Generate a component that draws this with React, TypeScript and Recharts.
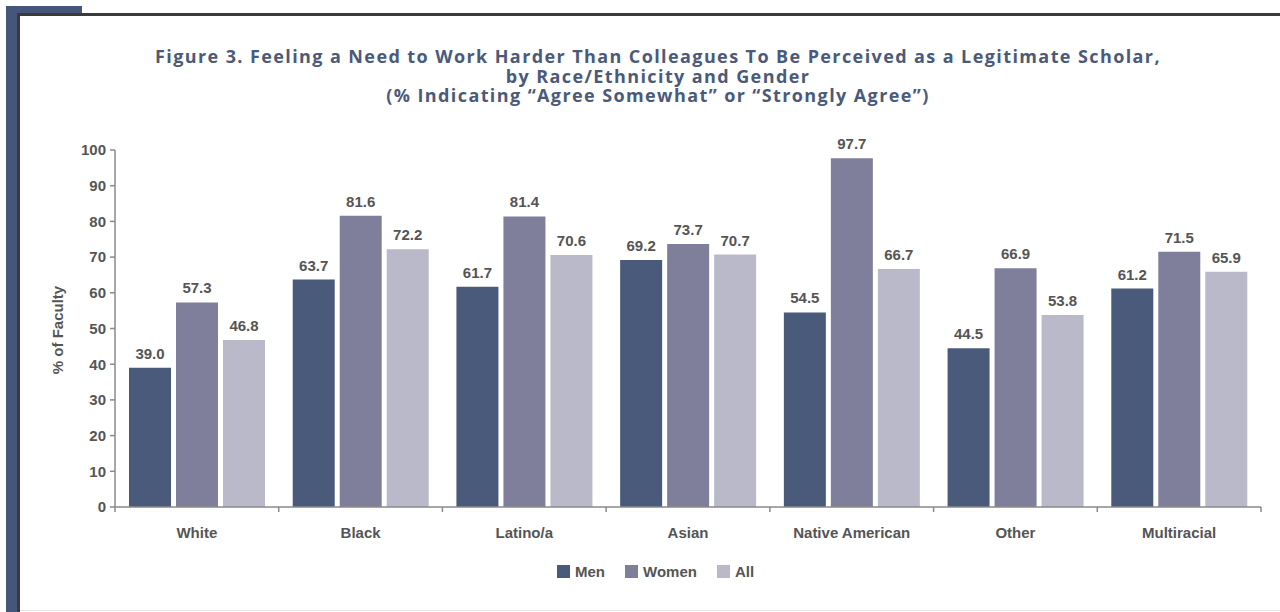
import React from 'react';
import { BarChart, Bar, XAxis, YAxis, LabelList } from 'recharts';

const groups = ['White', 'Black', 'Latino/a', 'Asian', 'Native American', 'Other', 'Multiracial'];
const menValues = [39.0, 63.7, 61.7, 69.2, 54.5, 44.5, 61.2];
const womenValues = [57.3, 81.6, 81.4, 73.7, 97.7, 66.9, 71.5];
const allValues = [46.8, 72.2, 70.6, 70.7, 66.7, 53.8, 65.9];
const yTicks = [0, 10, 20, 30, 40, 50, 60, 70, 80, 90, 100];

const seriesNames = ['Men', 'Women', 'All'];
const seriesColors = ['#4a5a7b', '#7f7f9c', '#b9b9ca'];

const chartData = groups.map((g, i) => ({
  group: g,
  Men: menValues[i],
  Women: womenValues[i],
  All: allValues[i],
}));

const labelFont = '"Liberation Sans", Arial, sans-serif';
const textGray = '#555';

// plot area spans x 115..1261, so each category band is this wide
const bandWidth = (1261 - 115) / groups.length;

const GroupTick = (props: any) => {
  const { x, y, payload, index } = props;
  return (
    <g>
      <line x1={x + bandWidth / 2} y1={y} x2={x + bandWidth / 2} y2={y + 5} stroke="#8a8a8a" strokeWidth={1.5} />
      {index === 0 && (
        <line x1={x - bandWidth / 2} y1={y} x2={x - bandWidth / 2} y2={y + 5} stroke="#8a8a8a" strokeWidth={1.5} />
      )}
      <text x={x} y={y + 31} textAnchor="middle" fill={textGray} fontSize={15} fontWeight="bold" fontFamily={labelFont}>
        {payload.value}
      </text>
    </g>
  );
};

const App: React.FC = () => {
  return (
    <div style={{ position: 'absolute', left: 0, top: 0, width: 1280, height: 612, background: '#fff', overflow: 'hidden' }}>
      {/* frame */}
      <div style={{ position: 'absolute', left: 6, top: 6, width: 11, height: 606, background: '#45567a' }} />
      <div style={{ position: 'absolute', left: 6, top: 6, width: 76, height: 7, background: '#45567a' }} />
      <div style={{ position: 'absolute', left: 17, top: 13, width: 1263, height: 3, background: '#3a3a3a' }} />
      <div style={{ position: 'absolute', left: 17, top: 13, width: 3, height: 599, background: '#3a3a3a' }} />
      <div style={{ position: 'absolute', left: 20, top: 610, width: 1260, height: 1, background: '#e4e4e4' }} />

      {/* title */}
      <div
        style={{
          position: 'absolute',
          left: 20,
          width: 1276,
          top: 47,
          textAlign: 'center',
          fontFamily: '"Open Sans", sans-serif',
          fontWeight: 700,
          fontSize: 18,
          letterSpacing: 1.4,
          lineHeight: '19.5px',
          color: '#4b5a7a',
        }}
      >
        <div>Figure 3. Feeling a Need to Work Harder Than Colleagues To Be Perceived as a Legitimate Scholar,</div>
        <div>by Race/Ethnicity and Gender</div>
        <div>(% Indicating “Agree Somewhat” or “Strongly Agree”)</div>
      </div>

      {/* y axis title */}
      <div
        style={{
          position: 'absolute',
          left: 57,
          top: 330,
          transform: 'translate(-50%, -50%) rotate(-90deg)',
          whiteSpace: 'nowrap',
          fontFamily: labelFont,
          fontWeight: 700,
          fontSize: 15,
          color: textGray,
        }}
      >
        % of Faculty
      </div>

      <div style={{ position: 'absolute', left: 0, top: 0 }}>
        <BarChart
          width={1280}
          height={612}
          data={chartData}
          margin={{ top: 150, right: 19, left: 55, bottom: 65 }}
          barSize={42}
          barGap={5}
        >
          <XAxis
            dataKey="group"
            stroke="#8a8a8a"
            strokeWidth={1.5}
            tickLine={false}
            tickSize={0}
            tickMargin={0}
            interval={0}
            height={40}
            tick={<GroupTick />}
          />
          <YAxis
            domain={[0, 100]}
            ticks={yTicks}
            width={60}
            interval={0}
            stroke="#8a8a8a"
            strokeWidth={1.5}
            tickSize={5}
            tickMargin={4}
            tick={{ fill: textGray, fontSize: 15, fontWeight: 'bold', fontFamily: labelFont }}
          />
          {seriesNames.map((name, i) => (
            <Bar key={name} dataKey={name} fill={seriesColors[i]} isAnimationActive={false}>
              <LabelList
                dataKey={name}
                position="top"
                offset={9}
                formatter={(v: any) => Number(v).toFixed(1)}
                fill={textGray}
                fontSize={15}
                fontWeight="bold"
                fontFamily={labelFont}
              />
            </Bar>
          ))}
        </BarChart>
      </div>

      {/* legend */}
      <div
        style={{
          position: 'absolute',
          left: 557,
          top: 563,
          display: 'flex',
          alignItems: 'center',
          fontFamily: labelFont,
          fontWeight: 700,
          fontSize: 15,
          color: textGray,
        }}
      >
        {seriesNames.map((name, i) => (
          <div key={name} style={{ display: 'flex', alignItems: 'center', marginRight: 20 }}>
            <span style={{ display: 'inline-block', width: 13, height: 13, background: seriesColors[i], marginRight: 5 }} />
            <span>{name}</span>
          </div>
        ))}
      </div>
    </div>
  );
};

export default App;
